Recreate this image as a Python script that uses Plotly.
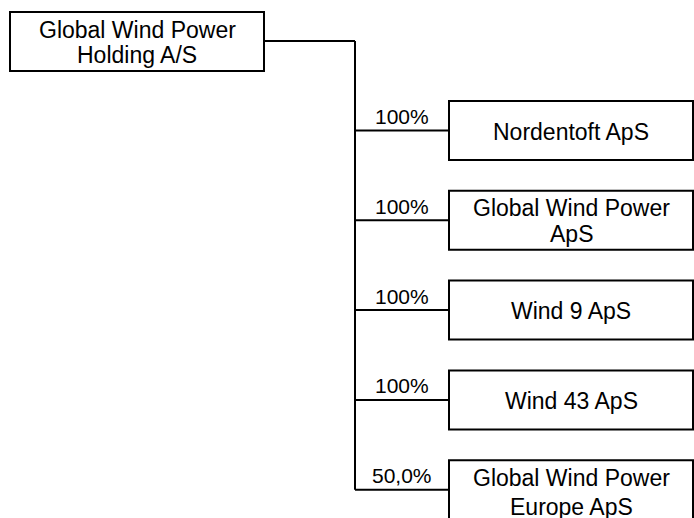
import plotly.graph_objects as go

# ---- data ----
parent_lines = ["Global Wind Power", "Holding A/S"]
child_lines = [
    ["Nordentoft ApS"],
    ["Global Wind Power", "ApS"],
    ["Wind 9 ApS"],
    ["Wind 43 ApS"],
    ["Global Wind Power", "Europe ApS"],
]
ownership = ["100%", "100%", "100%", "100%", "50,0%"]

# ---- layout constants (screen-pixel data coordinates) ----
W, H = 694, 518
P_X0, P_X1, P_Y0, P_Y1 = 10, 264, 12, 71
CONN_Y = 41
TRUNK_X = 355
C_X0, C_X1 = 449, 693
C_TOP0, C_STEP, C_H = 101, 89.8, 59
TEXT_DY = [1, 1, 1, 1, 2.5]      # vertical nudge of box text
LINE_GAPS = [25, 26, 25, 25, 29]  # line spacing for two-line boxes
FONT = "Liberation Sans, Arial, sans-serif"
LW = 2

shapes = []
annotations = []

def box(x0, y0, x1, y1):
    shapes.append(dict(type="rect", xref="x", yref="y", x0=x0, y0=y0, x1=x1, y1=y1,
                       line=dict(color="black", width=LW), fillcolor="white", layer="above"))

def seg(x0, y0, x1, y1):
    shapes.append(dict(type="line", xref="x", yref="y", x0=x0, y0=y0, x1=x1, y1=y1,
                       line=dict(color="black", width=LW)))

def text_lines(lines, cx, cy, size, gap):
    n = len(lines)
    for i, t in enumerate(lines):
        y = cy + (i - (n - 1) / 2) * gap
        annotations.append(dict(x=cx, y=y, xref="x", yref="y", text=t, showarrow=False,
                                xanchor="center", yanchor="middle",
                                font=dict(family=FONT, size=size, color="black")))

# parent
p_cy = (P_Y0 + P_Y1) / 2
box(P_X0, P_Y0, P_X1, P_Y1)
text_lines(parent_lines, (P_X0 + P_X1) / 2, p_cy + 0.5, 23, 25)

branch_ys = []
for i, (lines, pct) in enumerate(zip(child_lines, ownership)):
    top = C_TOP0 + i * C_STEP
    cy = top + C_H / 2
    branch_ys.append(cy)
    box(C_X0, top, C_X1, top + C_H)
    text_lines(lines, (C_X0 + C_X1) / 2, cy + TEXT_DY[i], 23, LINE_GAPS[i])
    seg(TRUNK_X, cy, C_X0, cy)
    annotations.append(dict(x=(TRUNK_X + C_X0) / 2, y=cy - 14, xref="x", yref="y", text=pct,
                            showarrow=False, xanchor="center", yanchor="middle",
                            font=dict(family=FONT, size=21, color="black")))

seg(P_X1, CONN_Y, TRUNK_X, CONN_Y)
seg(TRUNK_X, CONN_Y, TRUNK_X, branch_ys[-1])

fig = go.Figure()
fig.update_layout(
    width=W, height=H,
    margin=dict(l=0, r=0, t=0, b=0),
    paper_bgcolor="white", plot_bgcolor="white",
    xaxis=dict(range=[0, W], visible=False, fixedrange=True),
    yaxis=dict(range=[H, 0], visible=False, fixedrange=True),
    shapes=shapes, annotations=annotations,
    showlegend=False,
)
fig.write_html(
    "out.html",
    config={"displayModeBar": False},
    post_script="document.body.style.margin='0';document.body.style.overflow='hidden';",
)
